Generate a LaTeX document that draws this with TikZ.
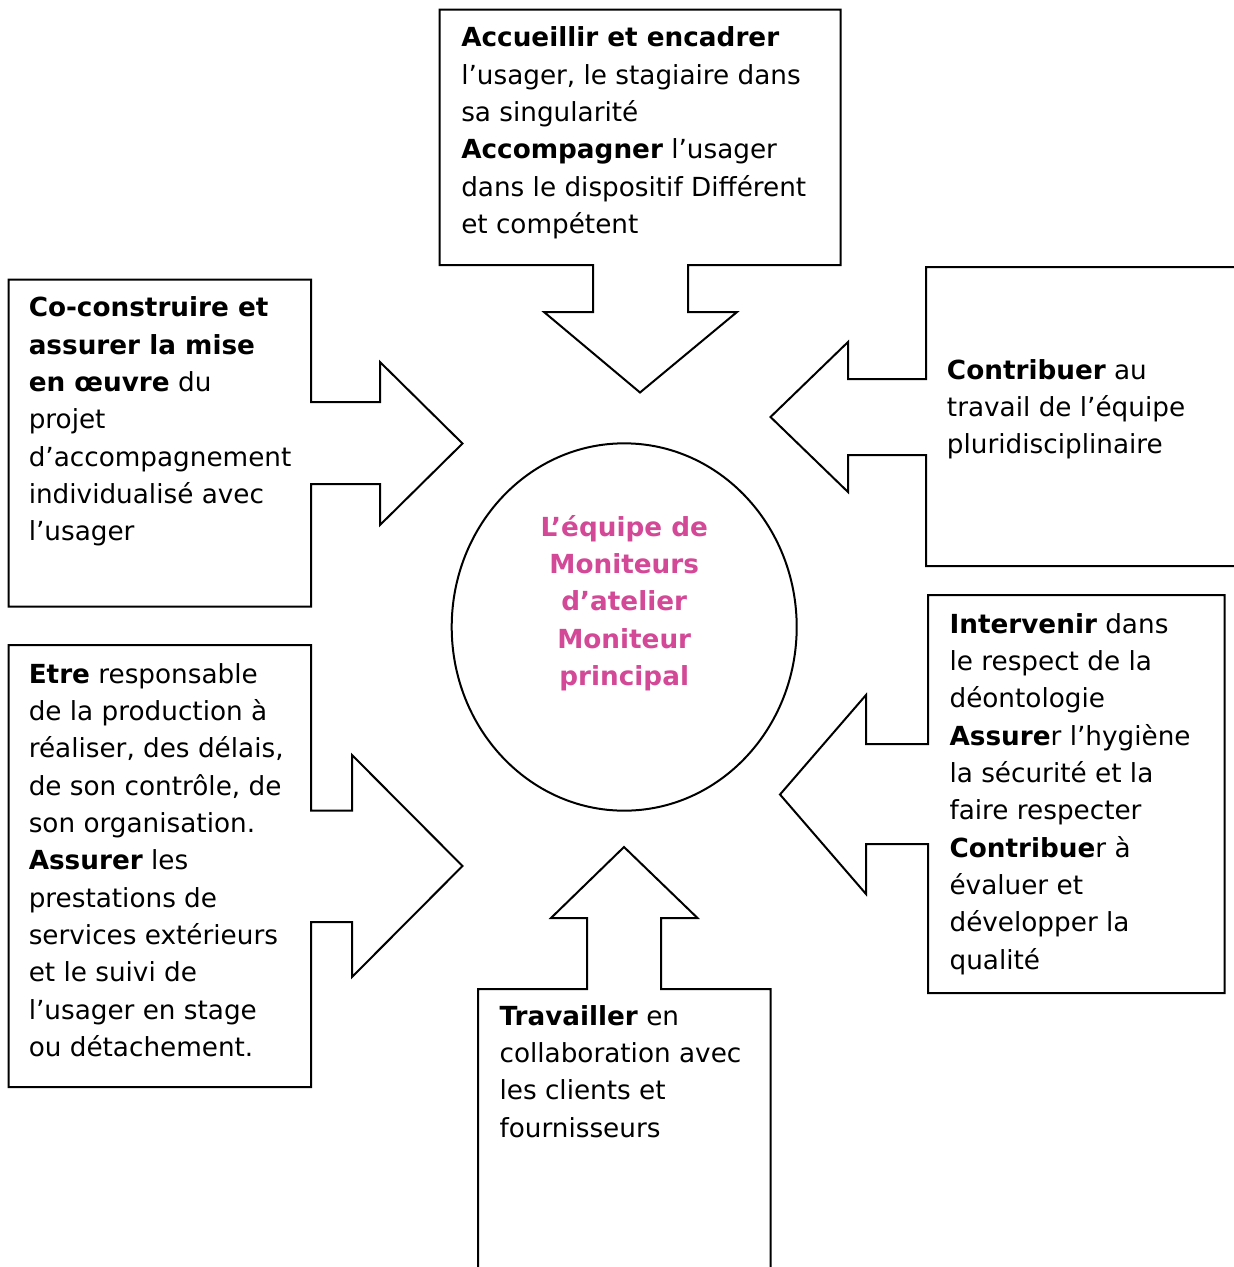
\documentclass[tikz,border=0pt]{standalone}
\usepackage{fontspec}
\setmainfont{DejaVu Sans}
\usetikzlibrary{shapes.geometric}
\definecolor{hubpink}{RGB}{211,73,151}
\newcommand\textlines[1]{\parbox[t]{400pt}{\raggedright #1}}
\newcommand\centerlines[1]{\parbox[t]{240pt}{\centering #1}}
\tikzset{
  callout/.style={draw=black, line width=1.5pt, fill=white, line join=miter},
  boxtext/.style={inner sep=0pt, anchor=base west, font=\fontsize{19.7pt}{28pt}\selectfont},
  hubtext/.style={inner sep=0pt, anchor=base, text=hubpink, font=\fontsize{19.7pt}{28pt}\selectfont\bfseries},
  hub/.style={draw=black, line width=1.5pt, ellipse, inner sep=0pt,
              minimum width=258.75pt, minimum height=275.5pt}
}
\begin{document}
\begin{tikzpicture}[x=0.75pt, y=-0.75pt]
  % page frame
  \useasboundingbox (0,0) rectangle (1234,1267);
  \fill[white] (0,0) rectangle (1234,1267);
  \clip (0,0) rectangle (1234,1267);

  % central ellipse
  \node[hub] (hub) at (624.2,627) {};
  \node[hubtext] (hublabel) at (624.2,536) {\centerlines{L’équipe de\\ Moniteurs\\ d’atelier\\ Moniteur\\ principal}};

  % top callout, arrow pointing down
  \draw[callout] (439.5,9.5) -- (840.5,9.5) -- (840.5,265) -- (688,265) -- (688,312)
    -- (737,312) -- (640,392.5) -- (544,312) -- (593,312) -- (593,265) -- (439.5,265) -- cycle;
  \node[boxtext] (top) at (461,46.7) {\textlines{\textbf{Accueillir et encadrer}\\
    l’usager, le stagiaire dans\\
    sa singularité\\
    \textbf{Accompagner} l’usager\\
    dans le dispositif Différent\\
    et compétent}};

  % upper left callout, arrow pointing right
  \draw[callout] (8.5,279.5) -- (311,279.5) -- (311,402) -- (380,402) -- (380,362)
    -- (462.5,443.5) -- (380,525) -- (380,484) -- (311,484) -- (311,606.5) -- (8.5,606.5) -- cycle;
  \node[boxtext] (upleft) at (28.5,316.7) {\textlines{\textbf{Co-construire et}\\
    \textbf{assurer la mise}\\
    \textbf{en œuvre} du\\
    projet\\
    d’accompagnement\\
    individualisé avec\\
    l’usager}};

  % upper right callout, arrow pointing left
  \draw[callout] (926,267) -- (1250,267) -- (1250,566) -- (926,566) -- (926,455)
    -- (848,455) -- (848,492) -- (770.5,417) -- (848,342) -- (848,379) -- (926,379) -- cycle;
  \node[boxtext] (upright) at (946.7,379) {\textlines{\textbf{Contribuer} au\\
    travail de l’équipe\\
    pluridisciplinaire}};

  % lower left callout, arrow pointing right
  \draw[callout] (8.5,645) -- (311,645) -- (311,810.5) -- (352,810.5) -- (352,755)
    -- (462.5,866) -- (352,977) -- (352,922) -- (311,922) -- (311,1087) -- (8.5,1087) -- cycle;
  \node[boxtext] (lowleft) at (28.5,683.3) {\textlines{\textbf{Etre} responsable\\
    de la production à\\
    réaliser, des délais,\\
    de son contrôle, de\\
    son organisation.\\
    \textbf{Assurer} les\\
    prestations de\\
    services extérieurs\\
    et le suivi de\\
    l’usager en stage\\
    ou détachement.}};

  % lower right callout, arrow pointing left
  \draw[callout] (928,595) -- (1224.5,595) -- (1224.5,993) -- (928,993) -- (928,844)
    -- (866,844) -- (866,894) -- (780,794.5) -- (866,695) -- (866,744) -- (928,744) -- cycle;
  \node[boxtext] (lowright) at (949.3,633.3) {\textlines{\textbf{Intervenir} dans\\
    le respect de la\\
    déontologie\\
    \textbf{Assure}r l’hygiène\\
    la sécurité et la\\
    faire respecter\\
    \textbf{Contribue}r à\\
    évaluer et\\
    développer la\\
    qualité}};

  % bottom callout, arrow pointing up
  \draw[callout] (478,1290) -- (478,989) -- (587,989) -- (587,918) -- (551,918)
    -- (624,847) -- (697.5,918) -- (661,918) -- (661,989) -- (770.5,989) -- (770.5,1290) -- cycle;
  \node[boxtext] (bottom) at (499.3,1025) {\textlines{\textbf{Travailler} en\\
    collaboration avec\\
    les clients et\\
    fournisseurs}};
\end{tikzpicture}
\end{document}
